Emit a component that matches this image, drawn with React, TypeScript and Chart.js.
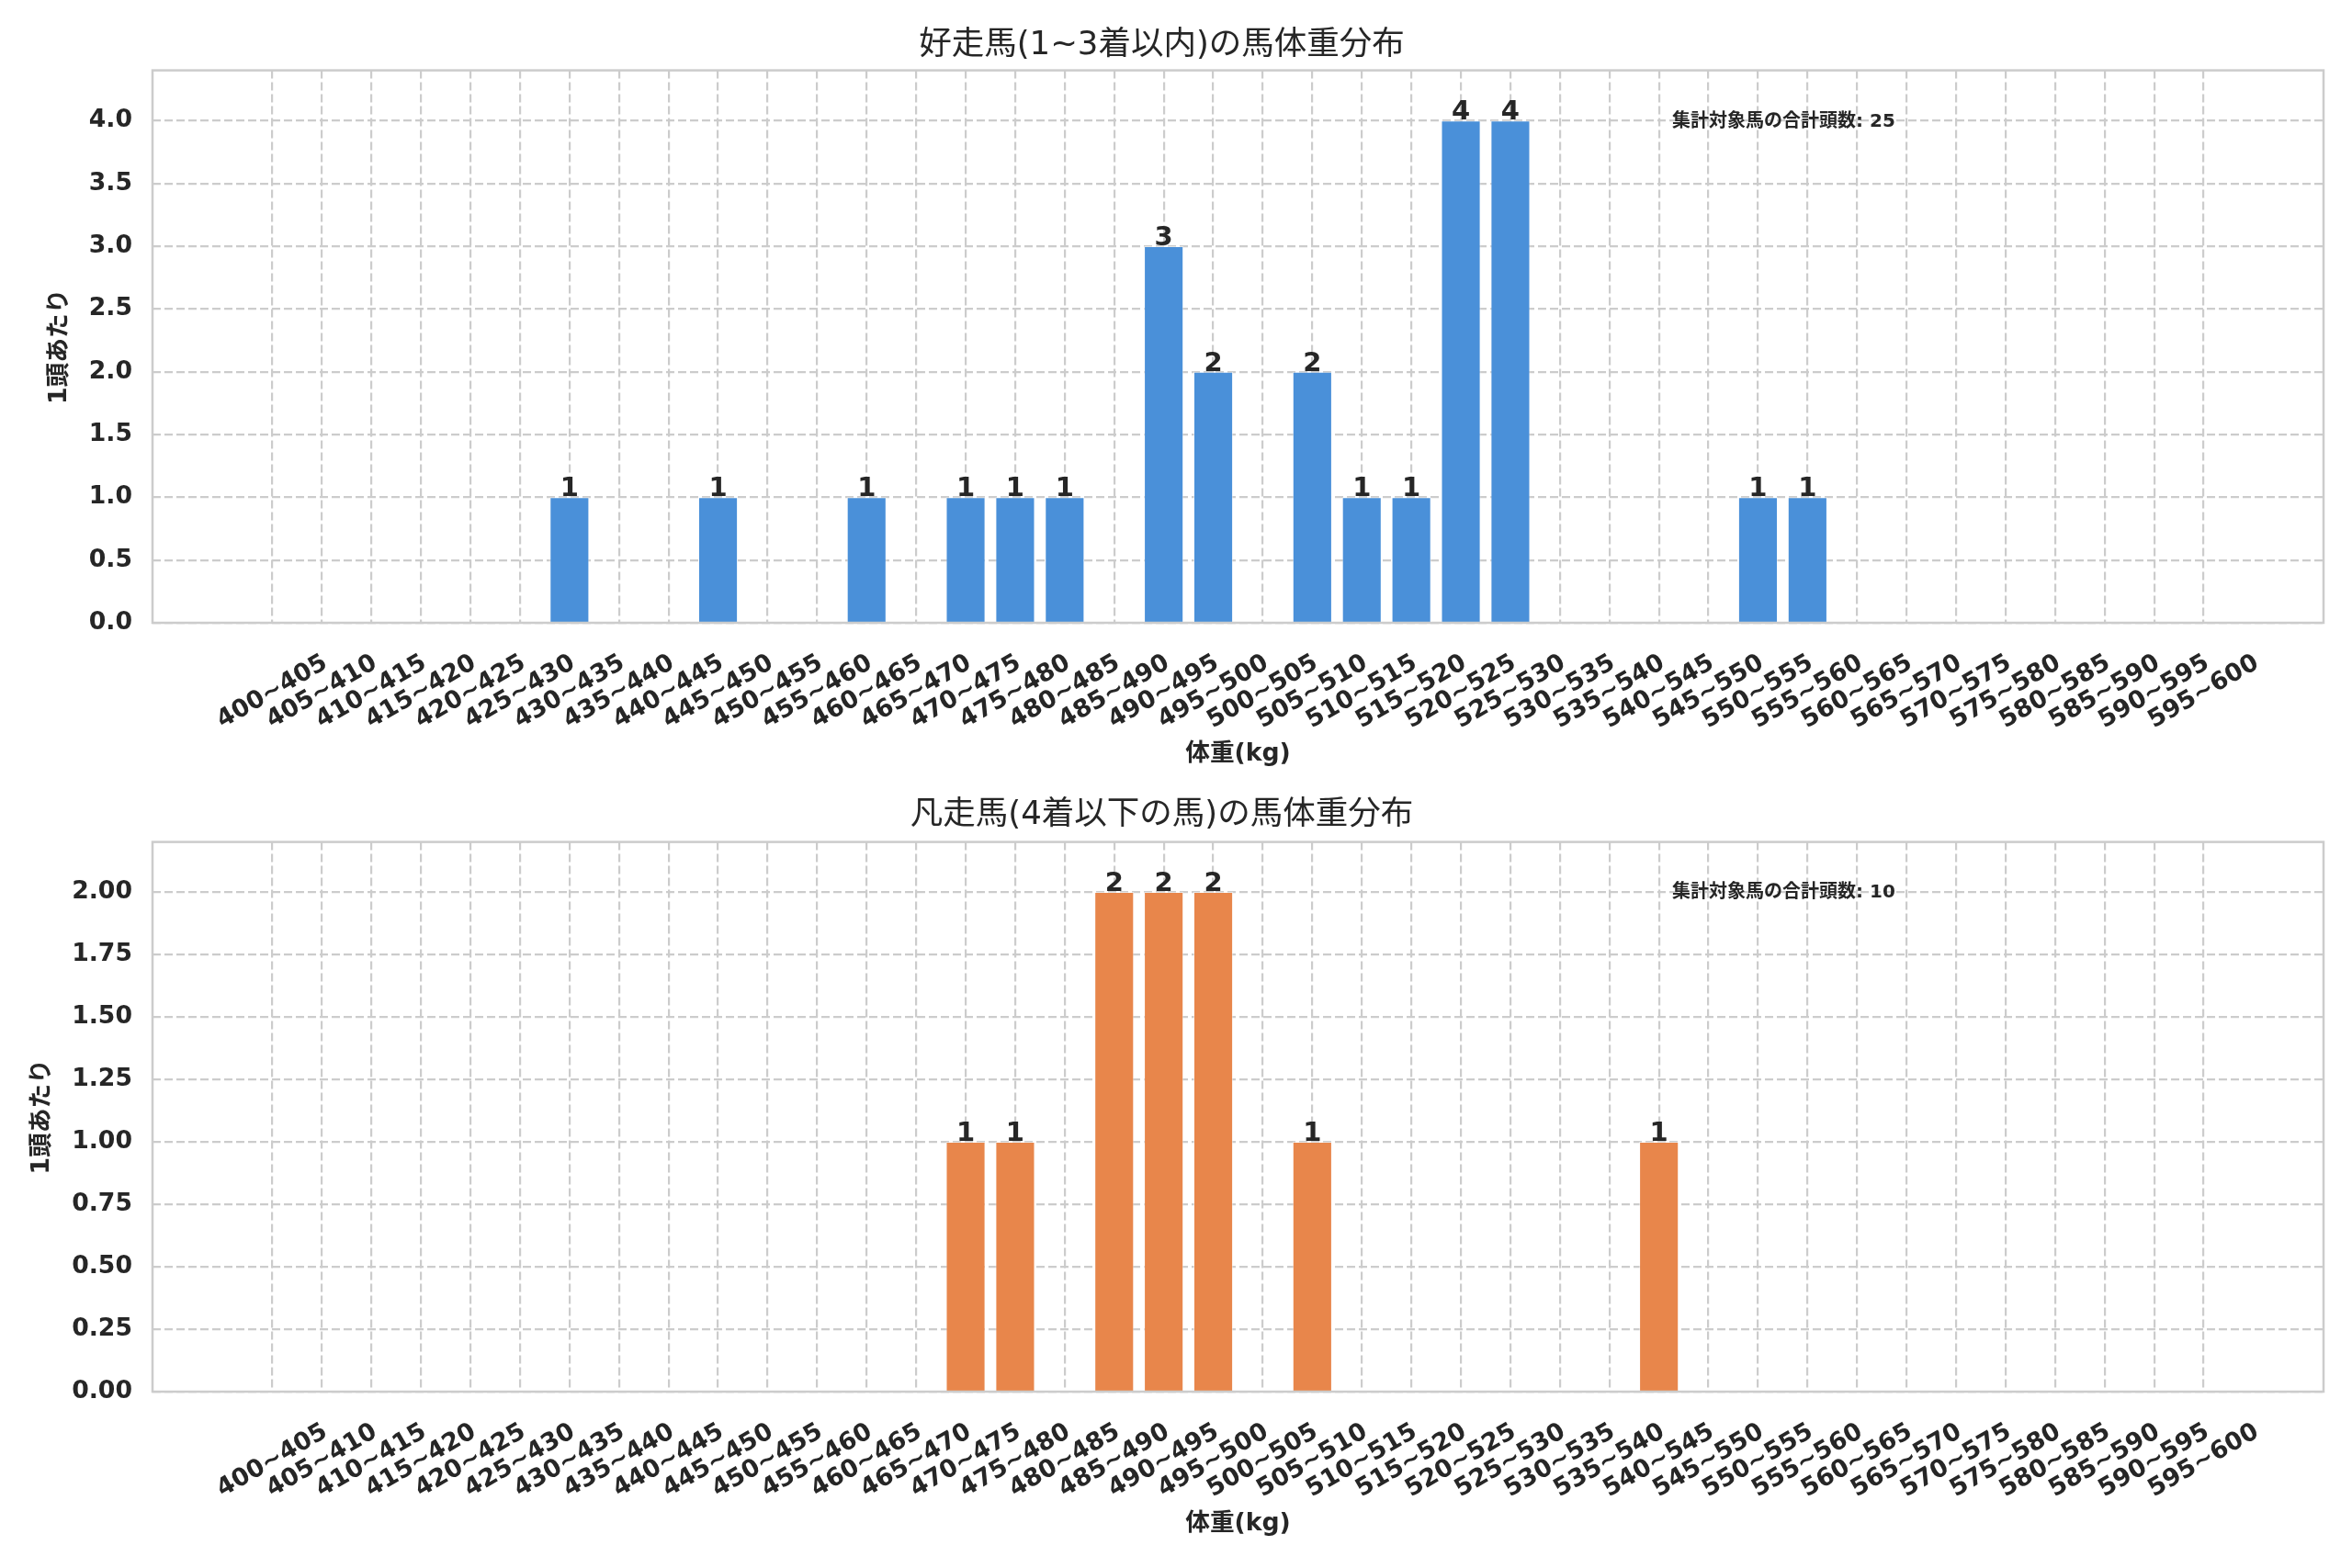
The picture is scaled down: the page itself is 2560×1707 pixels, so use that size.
import { useEffect, useRef } from 'react';
import { Chart, registerables } from 'chart.js';

Chart.register(...registerables);

const FONT = '"DejaVu Sans", "Noto Sans CJK JP", sans-serif';
Chart.defaults.font.family = FONT;
Chart.defaults.color = '#262626';

const weightBins = [
  '400~405', '405~410', '410~415', '415~420', '420~425', '425~430', '430~435', '435~440',
  '440~445', '445~450', '450~455', '455~460', '460~465', '465~470', '470~475', '475~480',
  '480~485', '485~490', '490~495', '495~500', '500~505', '505~510', '510~515', '515~520',
  '520~525', '525~530', '530~535', '535~540', '540~545', '545~550', '550~555', '555~560',
  '560~565', '565~570', '570~575', '575~580', '580~585', '585~590', '590~595', '595~600',
];

// 1~3着
const topCounts = [
  0, 0, 0, 0, 0, 0, 1, 0, 0, 1, 0, 0, 1, 0, 1, 1, 1, 0, 3, 2,
  0, 2, 1, 1, 4, 4, 0, 0, 0, 0, 1, 1, 0, 0, 0, 0, 0, 0, 0, 0,
];

// 4着以下
const bottomCounts = [
  0, 0, 0, 0, 0, 0, 0, 0, 0, 0, 0, 0, 0, 0, 1, 1, 0, 2, 2, 2,
  0, 1, 0, 0, 0, 0, 0, 0, 1, 0, 0, 0, 0, 0, 0, 0, 0, 0, 0, 0,
];

const topYTicks = [0, 0.5, 1, 1.5, 2, 2.5, 3, 3.5, 4];
const bottomYTicks = [0, 0.25, 0.5, 0.75, 1, 1.25, 1.5, 1.75, 2];

const topTitle = '好走馬(1~3着以内)の馬体重分布';
const bottomTitle = '凡走馬(4着以下の馬)の馬体重分布';
const xTitle = '体重(kg)';
const yTitle = '1頭あたり';
const notePrefix = '集計対象馬の合計頭数';

const GRID = '#cccccc';
const TEXT = '#262626';

const overlay = {
  id: 'overlay',
  afterDatasetsDraw(chart: any, _args: any, opts: any) {
    const { ctx, chartArea: a } = chart;
    ctx.save();
    ctx.strokeStyle = GRID;
    ctx.lineWidth = 2.5;
    ctx.strokeRect(a.left, a.top, a.right - a.left, a.bottom - a.top);

    const meta = chart.getDatasetMeta(0);
    const data = chart.data.datasets[0].data;
    ctx.fillStyle = TEXT;
    ctx.font = `bold 29px ${FONT}`;
    ctx.textAlign = 'center';
    ctx.textBaseline = 'alphabetic';
    meta.data.forEach((bar: any, i: number) => {
      const v = data[i].y;
      if (v > 0) ctx.fillText(String(v), bar.x, bar.y - 1);
    });

    ctx.font = `bold 20px ${FONT}`;
    ctx.textAlign = 'left';
    ctx.textBaseline = 'middle';
    ctx.fillText(opts.note, a.left + 0.7 * (a.right - a.left), a.bottom - 0.907 * (a.bottom - a.top));
    ctx.restore();
  },
};

interface HistProps {
  title: string;
  counts: number[];
  yTicks: number[];
  yMax: number;
  digits: number;
  color: string;
  height: number;
  titlePad: { top: number; bottom: number };
  xAxisHeight: number;
  xTitlePad: number;
  yTitlePad: number;
}

function Histogram(p: HistProps) {
  const canvasRef = useRef<HTMLCanvasElement>(null);
  const chartRef = useRef<Chart | null>(null);

  useEffect(() => {
    if (!canvasRef.current) return;
    if (chartRef.current) chartRef.current.destroy();

    const total = p.counts.reduce((s, v) => s + v, 0);

    chartRef.current = new Chart(canvasRef.current, {
      type: 'bar',
      data: {
        datasets: [{
          data: p.counts.map((c, i) => ({ x: i, y: c })),
          backgroundColor: p.color,
          borderColor: 'rgba(255,255,255,0.5)',
          borderWidth: 1,
          barPercentage: 0.8,
          categoryPercentage: 1,
        }],
      },
      plugins: [overlay],
      options: {
        animation: false,
        responsive: true,
        maintainAspectRatio: false,
        layout: { padding: { left: 0, right: 31, top: 0, bottom: 0 } },
        plugins: {
          legend: { display: false },
          tooltip: { enabled: false },
          title: {
            display: true,
            text: p.title,
            color: TEXT,
            font: { size: 35.5, weight: 'normal' },
            padding: p.titlePad,
          },
          overlay: { note: `${notePrefix}: ${total}` },
        } as any,
        scales: {
          x: {
            type: 'linear',
            min: -2.42,
            max: weightBins.length - 1 + 2.42,
            offset: false,
            afterBuildTicks: (axis: any) => {
              axis.ticks = weightBins.map((_, i) => ({ value: i }));
            },
            afterFit: (axis: any) => {
              axis.height = p.xAxisHeight;
            },
            ticks: {
              autoSkip: false,
              maxRotation: 30,
              minRotation: 30,
              padding: 28,
              labelOffset: 58,
              color: TEXT,
              font: { size: 26.7, weight: 'bold' },
              callback: (v: any) => weightBins[v] ?? '',
            },
            grid: {
              offset: false,
              color: GRID,
              lineWidth: 2.2,
              drawTicks: false,
              tickLength: 0,
            },
            border: { display: false, dash: [9, 4] },
            title: {
              display: true,
              text: xTitle,
              color: TEXT,
              font: { size: 26.7, weight: 'bold' },
              padding: { top: p.xTitlePad, bottom: p.xTitlePad },
            },
          },
          y: {
            min: 0,
            max: p.yMax,
            afterBuildTicks: (axis: any) => {
              axis.ticks = p.yTicks.map((v) => ({ value: v }));
            },
            afterFit: (axis: any) => {
              axis.width = 166;
            },
            ticks: {
              padding: 22,
              color: TEXT,
              font: { size: 26.7, weight: 'bold' },
              callback: (v: any) => Number(v).toFixed(p.digits),
            },
            grid: {
              color: GRID,
              lineWidth: 2.2,
              drawTicks: false,
              tickLength: 0,
            },
            border: { display: false, dash: [9, 4] },
            title: {
              display: true,
              text: yTitle,
              color: TEXT,
              font: { size: 26.7, weight: 'bold' },
              padding: { top: p.yTitlePad, bottom: 0 },
            },
          },
        },
      },
    } as any);

    return () => chartRef.current?.destroy();
  }, [p]);

  return (
    <div style={{ position: 'relative', width: 2560, height: p.height }}>
      <canvas ref={canvasRef} />
    </div>
  );
}

const topProps: HistProps = {
  title: topTitle,
  counts: topCounts,
  yTicks: topYTicks,
  yMax: 4.4,
  digits: 1,
  color: '#4a90d9',
  height: 853,
  titlePad: { top: 28, bottom: 6 },
  xAxisHeight: 175,
  xTitlePad: 16,
  yTitlePad: 49,
};

const bottomProps: HistProps = {
  title: bottomTitle,
  counts: bottomCounts,
  yTicks: bottomYTicks,
  yMax: 2.2,
  digits: 2,
  color: '#e8864b',
  height: 854,
  titlePad: { top: 13, bottom: 8 },
  xAxisHeight: 192,
  xTitlePad: 32,
  yTitlePad: 30,
};

export default function App() {
  return (
    <div style={{ position: 'absolute', left: 0, top: 0, width: 2560, height: 1707, background: '#fff' }}>
      <Histogram {...topProps} />
      <Histogram {...bottomProps} />
    </div>
  );
}
